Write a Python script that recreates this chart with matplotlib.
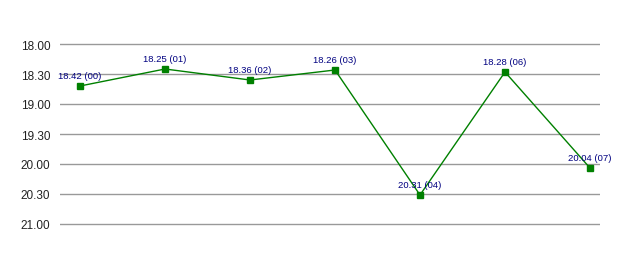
import matplotlib
matplotlib.use("Agg")
import matplotlib.pyplot as plt
from matplotlib import font_manager

# Data: times read as hh.mm, with their index labels
index_labels = ["00", "01", "02", "03", "04", "06", "07"]
times = ["18.42", "18.25", "18.36", "18.26", "20.31", "18.28", "20.04"]
ytick_labels = ["18.00", "18.30", "19.00", "19.30", "20.00", "20.30", "21.00"]

def to_minutes(s):
    h, m = s.split(".")
    return (int(h) - 18) * 60 + int(m)

values = [to_minutes(t) for t in times]
ytick_vals = [to_minutes(t) for t in ytick_labels]

names = {f.name for f in font_manager.fontManager.ttflist}
tick_font = "Liberation Sans Narrow" if "Liberation Sans Narrow" in names else "Liberation Sans"

W, H = 638, 255
fig = plt.figure(figsize=(W / 100, H / 100), dpi=100)
# axes spans pixel rows 40..230; minute m sits at row 45 + m
ax = fig.add_axes([60 / W, (H - 230.5) / H, (599.5 - 60) / W, 190 / H])

x = list(range(len(values)))
ax.plot(x, values, color="#008000", lw=1.0, marker="s", ms=4.5,
        mfc="#008000", mec="#008000", clip_on=False, zorder=3)

for xi, v, t, lab in zip(x, values, times, index_labels):
    ax.annotate(f"{t} ({lab})", (xi, v), xytext=(0, 4), textcoords="offset points",
                ha="center", va="bottom", fontsize=6.8, color="#000080",
                family="Liberation Sans", zorder=4)

ax.set_xlim(-20 / 85, 519.5 / 85)
ax.set_ylim(185.5, -4.5)
ax.set_yticks(ytick_vals)
ax.set_yticklabels(ytick_labels, family=tick_font, fontsize=8.5, color="#222222")
ax.set_xticks([])
ax.tick_params(axis="y", length=0, pad=7)
for sp in ax.spines.values():
    sp.set_visible(False)
ax.grid(axis="y", color="#999999", lw=1.0)
ax.set_axisbelow(True)

fig.savefig("out.png", dpi=100)
